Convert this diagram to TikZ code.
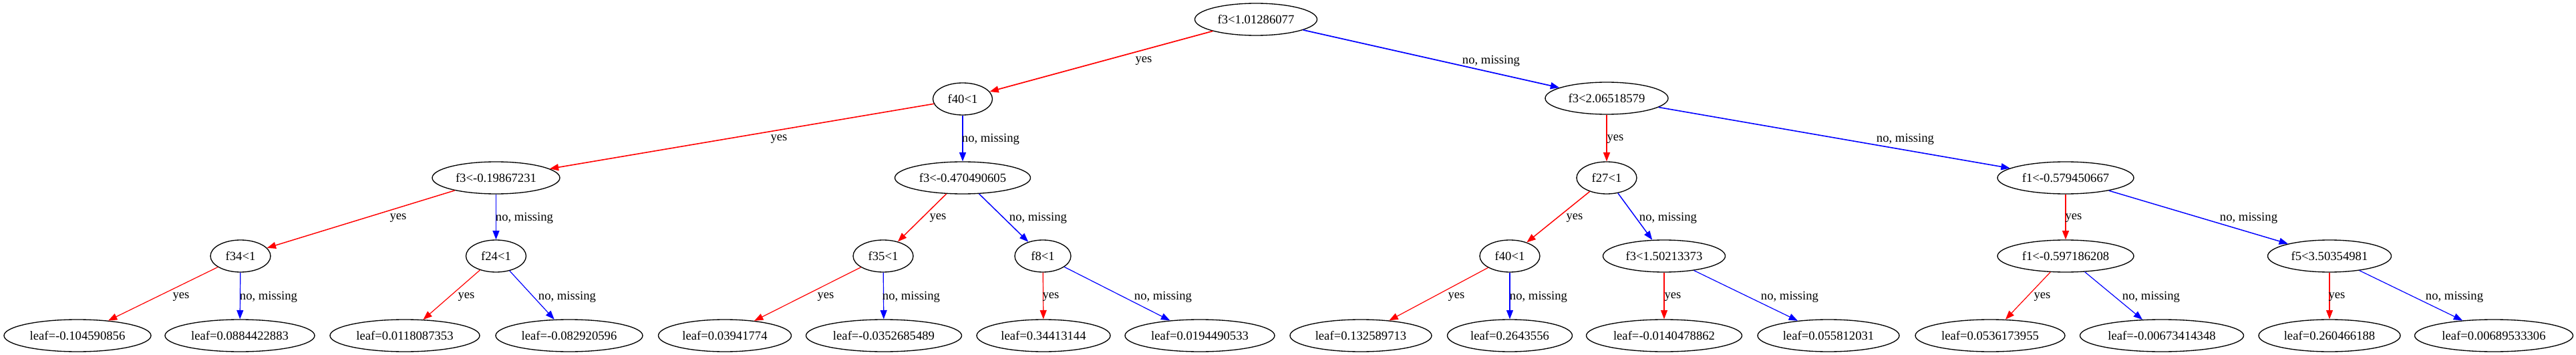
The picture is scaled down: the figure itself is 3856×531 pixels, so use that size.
\documentclass[tikz,border=0pt]{standalone}
\usepackage{fontspec}
\setmainfont{Liberation Serif}
\usetikzlibrary{shapes.geometric,arrows.meta}
\begin{document}
\begin{tikzpicture}[x=0.75pt,y=-0.75pt,
  tnode/.style={draw=black, line width=1pt, ellipse, inner sep=0pt,
    minimum height=36pt, minimum width={#1*0.75pt},
    font=\fontsize{14pt}{16pt}\selectfont},
  lbl/.style={inner sep=0pt, font=\fontsize{14pt}{16pt}\selectfont},
  yesedge/.style={draw=red, line width=#1, -{Triangle[length=10pt,width=7.5pt]}},
  noedge/.style={draw=blue, line width=#1, -{Triangle[length=10pt,width=7.5pt]}},
  yesedge/.default=1pt,
  noedge/.default=1pt]
\path[use as bounding box] (0,0) rectangle (3856,531);
% level 0
\node[tnode=183] (n0) at (1880,29) {f3<1.01286077};
% level 1
\node[tnode=89] (n1) at (1441,148) {f40<1};
\node[tnode=184] (n2) at (2405,147) {f3<2.06518579};
% level 2
\node[tnode=191] (n3) at (742.5,266) {f3<-0.19867231};
\node[tnode=203] (n4) at (1441,266) {f3<-0.470490605};
\node[tnode=90] (n5) at (2405,266) {f27<1};
\node[tnode=204] (n6) at (3092,266) {f1<-0.579450667};
% level 3
\node[tnode=90] (n7) at (360,383) {f34<1};
\node[tnode=90] (n8) at (742.5,383) {f24<1};
\node[tnode=90] (n9) at (1322,383) {f35<1};
\node[tnode=84] (n10) at (1561,383) {f8<1};
\node[tnode=90] (n11) at (2260,383) {f40<1};
\node[tnode=183] (n12) at (2491,383) {f3<1.50213373};
\node[tnode=204] (n13) at (3092,383) {f1<-0.597186208};
\node[tnode=185] (n14) at (3487,383) {f5<3.50354981};
% leaves
\node[tnode=220] (l1) at (116,502) {leaf=-0.104590856};
\node[tnode=224] (l2) at (359,502) {leaf=0.0884422883};
\node[tnode=224] (l3) at (606,502) {leaf=0.0118087353};
\node[tnode=220] (l4) at (852,502) {leaf=-0.082920596};
\node[tnode=199] (l5) at (1085,502) {leaf=0.03941774};
\node[tnode=233] (l6) at (1323,502) {leaf=-0.0352685489};
\node[tnode=200] (l7) at (1562,502) {leaf=0.34413144};
\node[tnode=224] (l8) at (1796,502) {leaf=0.0194490533};
\node[tnode=212] (l9) at (2037,502) {leaf=0.132589713};
\node[tnode=187] (l10) at (2260,502) {leaf=0.2643556};
\node[tnode=233] (l11) at (2491,502) {leaf=-0.0140478862};
\node[tnode=212] (l12) at (2737,502) {leaf=0.055812031};
\node[tnode=224] (l13) at (2979,502) {leaf=0.0536173955};
\node[tnode=245] (l14) at (3236,502) {leaf=-0.00673414348};
\node[tnode=212] (l15) at (3487,502) {leaf=0.260466188};
\node[tnode=237] (l16) at (3733,502) {leaf=0.00689533306};
% edges
\draw[yesedge=1.3pt] (n0) -- (n1);
\draw[noedge=1.3pt] (n0) -- (n2);
\draw[yesedge=1.2pt] (n1) -- (n3);
\draw[noedge=1.2pt] (n1) -- (n4);
\draw[yesedge=1.2pt] (n2) -- (n5);
\draw[noedge=1.2pt] (n2) -- (n6);
\draw[yesedge=1.1pt] (n3) -- (n7);
\draw[noedge=1.1pt] (n3) -- (n8);
\draw[yesedge=1.1pt] (n4) -- (n9);
\draw[noedge=1.1pt] (n4) -- (n10);
\draw[yesedge=1.1pt] (n5) -- (n11);
\draw[noedge=1.1pt] (n5) -- (n12);
\draw[yesedge=1.1pt] (n6) -- (n13);
\draw[noedge=1.1pt] (n6) -- (n14);
\draw[yesedge=0.9pt] (n7) -- (l1);
\draw[noedge=0.9pt] (n7) -- (l2);
\draw[yesedge=0.9pt] (n8) -- (l3);
\draw[noedge=0.9pt] (n8) -- (l4);
\draw[yesedge=0.9pt] (n9) -- (l5);
\draw[noedge=0.9pt] (n9) -- (l6);
\draw[yesedge=0.9pt] (n10) -- (l7);
\draw[noedge=0.9pt] (n10) -- (l8);
\draw[yesedge=0.9pt] (n11) -- (l9);
\draw[noedge=0.9pt] (n11) -- (l10);
\draw[yesedge=0.9pt] (n12) -- (l11);
\draw[noedge=0.9pt] (n12) -- (l12);
\draw[yesedge=0.9pt] (n13) -- (l13);
\draw[noedge=0.9pt] (n13) -- (l14);
\draw[yesedge=0.9pt] (n14) -- (l15);
\draw[noedge=0.9pt] (n14) -- (l16);
% edge labels
\node[lbl] (t01) at (1712,91) {yes};
\node[lbl] (t02) at (2232,91) {no, missing};
\node[lbl] (t13) at (1166,208) {yes};
\node[lbl] (t14) at (1483,208) {no, missing};
\node[lbl] (t25) at (2418,208) {yes};
\node[lbl] (t26) at (2852,208) {no, missing};
\node[lbl] (t37) at (596,326) {yes};
\node[lbl] (t38) at (785,326) {no, missing};
\node[lbl] (t49) at (1404,326) {yes};
\node[lbl] (t410) at (1554,326) {no, missing};
\node[lbl] (t511) at (2357,326) {yes};
\node[lbl] (t512) at (2497,326) {no, missing};
\node[lbl] (t613) at (3104,326) {yes};
\node[lbl] (t614) at (3366,326) {no, missing};
\node[lbl] (t71) at (271,444) {yes};
\node[lbl] (t72) at (402,444) {no, missing};
\node[lbl] (t83) at (698,444) {yes};
\node[lbl] (t84) at (849,444) {no, missing};
\node[lbl] (t95) at (1236,444) {yes};
\node[lbl] (t96) at (1364,444) {no, missing};
\node[lbl] (t107) at (1573,444) {yes};
\node[lbl] (t108) at (1741,444) {no, missing};
\node[lbl] (t119) at (2180,444) {yes};
\node[lbl] (t1110) at (2303,444) {no, missing};
\node[lbl] (t1211) at (2504,444) {yes};
\node[lbl] (t1212) at (2679,444) {no, missing};
\node[lbl] (t1313) at (3057,444) {yes};
\node[lbl] (t1314) at (3220,444) {no, missing};
\node[lbl] (t1415) at (3498,444) {yes};
\node[lbl] (t1416) at (3674,444) {no, missing};
\end{tikzpicture}
\end{document}
